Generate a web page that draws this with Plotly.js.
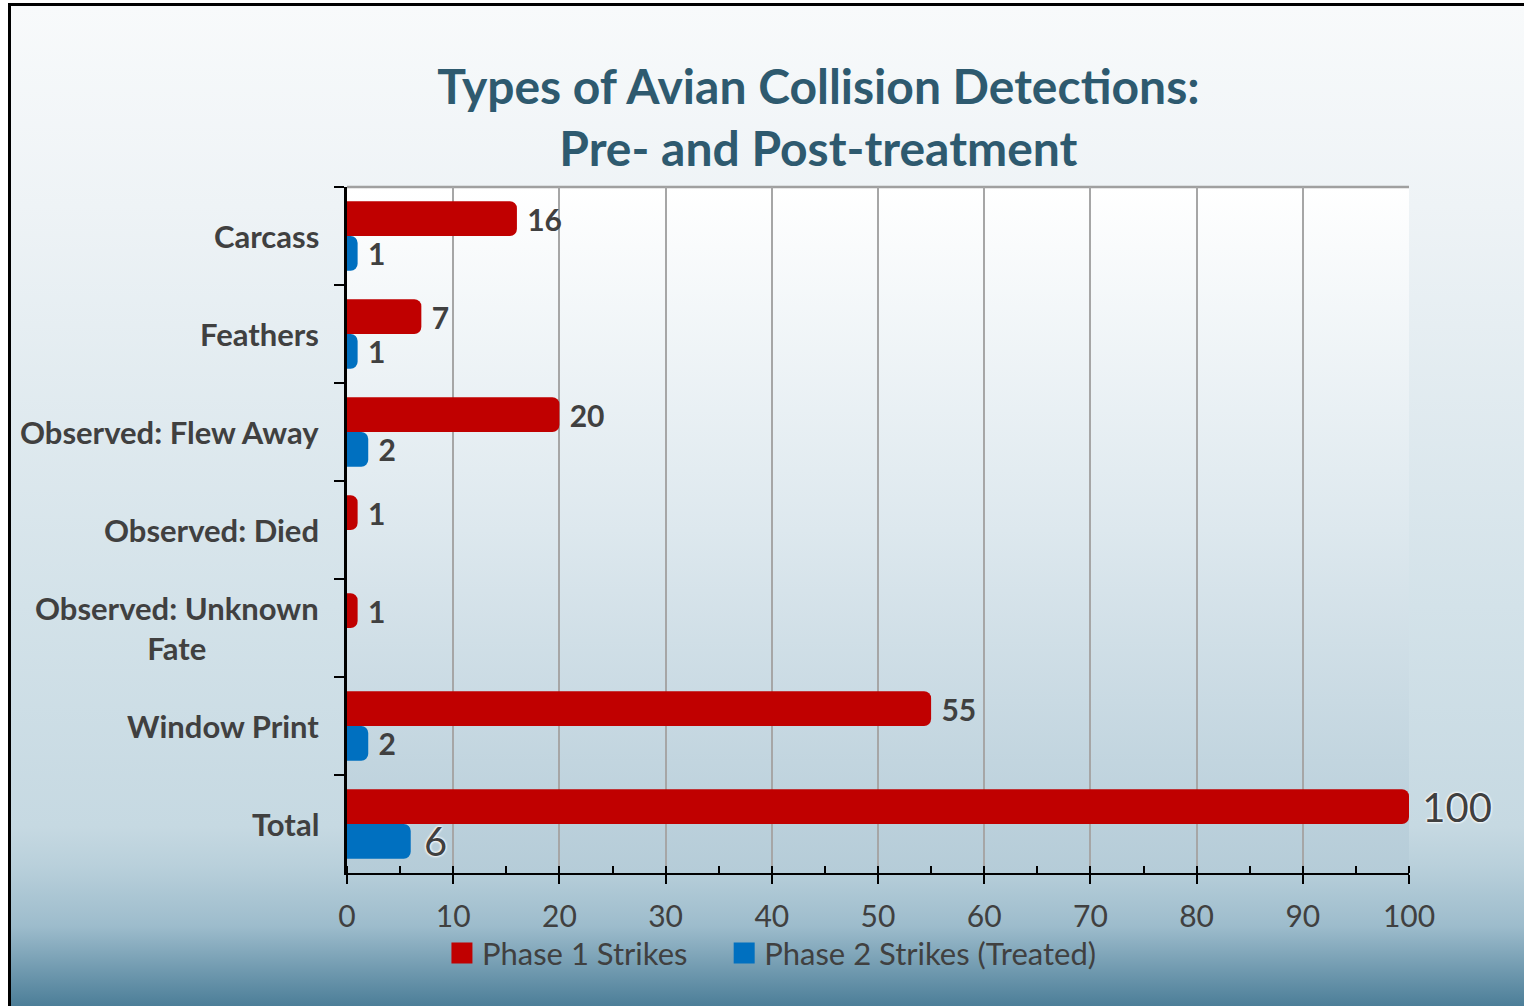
<!DOCTYPE html>
<html>
<head>
<meta charset="utf-8">
<script src="https://cdn.plot.ly/plotly-3.0.1.min.js"></script>
<style>
  html, body { margin: 0; padding: 0; background: #ffffff; }
  #frame {
    position: absolute; left: 8px; top: 3px; width: 1516px; height: 1003px;
    box-sizing: border-box; border-left: 3px solid #000; border-top: 3px solid #000;
    background: linear-gradient(to bottom, #f8fafb 0%, #eef3f6 20%, #d3e2e9 60%, #c6d9e2 82%, #b9d0db 86%, #9dbccc 92%, #4c7e98 100%);
  }
  #chart { position: absolute; left: 0; top: 0; width: 1524px; height: 1006px; }
</style>
</head>
<body>
<div id="frame"></div>
<div id="chart"></div>
<script>
// ---- data ----
const categories = ["Carcass", "Feathers", "Observed: Flew Away", "Observed: Died", "Observed: Unknown<br>Fate", "Window Print", "Total"];
const phase1Name = "Phase 1 Strikes";
const phase2Name = "Phase 2 Strikes (Treated)";
const phase1Values = [16, 7, 20, 1, 1, 55, 100];
const phase2Values = [1, 1, 2, null, null, 2, 6];
const xTickValues = [0, 10, 20, 30, 40, 50, 60, 70, 80, 90, 100];

// ---- styles ----
const labelColor = "#404040";
const red = "#c00000";
const blue = "#0070c0";
const fontFam = "Lato, 'Open Sans', sans-serif";
const isTotal = categories.map(c => c === "Total");
const textSizes = isTotal.map(t => t ? 40 : 30);
const textWeights = isTotal.map(t => t ? "normal" : "bold");
const textShadows = isTotal.map(t => t ? "0px 0px 3px #ffffff, 0px 0px 3px #ffffff, 0px 0px 2px #ffffff" : "none");

const plotGrad = "data:image/svg+xml;charset=utf-8," + encodeURIComponent(
  "<svg xmlns='http://www.w3.org/2000/svg' width='100' height='100' viewBox='0 0 100 100' preserveAspectRatio='none'>" +
  "<defs><linearGradient id='g' x1='0' y1='0' x2='0' y2='1'>" +
  "<stop offset='0' stop-color='#ffffff'/><stop offset='0.5' stop-color='#dde8ee'/><stop offset='1' stop-color='#b5ccd8'/>" +
  "</linearGradient></defs><rect x='0' y='0' width='100' height='100' fill='url(#g)'/></svg>");

function barTrace(name, values, color) {
  return {
    type: "bar", orientation: "h", name: name, legendgroup: name, showlegend: false,
    y: categories, x: values,
    marker: { color: color, cornerradius: 7 },
    text: values.map(v => v == null ? "" : "\u00a0" + v),
    textposition: "outside", constraintext: "none", cliponaxis: false,
    textfont: { family: fontFam, color: labelColor, size: textSizes, weight: textWeights, shadow: textShadows },
    hoverinfo: "x+name"
  };
}
function legendTrace(name, color, pad) {
  return {
    type: "scatter", mode: "markers", name: name + pad, legendgroup: name, showlegend: true,
    x: [null], y: [null],
    marker: { symbol: "square", size: 16, color: color, line: { color: color, width: 5 } },
    hoverinfo: "skip"
  };
}

const traces = [
  barTrace(phase1Name, phase1Values, red),
  barTrace(phase2Name, phase2Values, blue),
  legendTrace(phase1Name, red, "\u00a0\u00a0\u00a0\u00a0"),
  legendTrace(phase2Name, blue, "")
];

const annotations = categories.map(c => ({
  xref: "paper", yref: "y", x: 0, y: c, xanchor: "right", yanchor: "middle",
  xshift: -26, text: c, showarrow: false, align: "center",
  font: { family: fontFam, size: 31, color: labelColor, weight: "bold" }
}));

const layout = {
  width: 1524, height: 1006,
  paper_bgcolor: "rgba(0,0,0,0)", plot_bgcolor: "rgba(0,0,0,0)",
  margin: { l: 347, r: 115, t: 187, b: 133 },
  title: {
    text: "Types of Avian Collision Detections:<br>Pre- and Post-treatment",
    x: 0.537, xref: "container", xanchor: "center",
    y: 0.897, yref: "container", yanchor: "middle",
    font: { family: fontFam, size: 48, color: "#2e5a6f", weight: "bold" }
  },
  barmode: "group", bargap: 0.29, bargroupgap: 0,
  xaxis: {
    range: [0, 100], tickvals: xTickValues, ticktext: xTickValues.map(String),
    showgrid: true, gridcolor: "#a6a6a6", gridwidth: 2, zeroline: false,
    showline: true, linecolor: "#000000", linewidth: 2,
    ticks: "outside", ticklen: 9, tickwidth: 2, tickcolor: "#000000",
    minor: { dtick: 5, ticks: "inside", ticklen: 7, tickwidth: 2, tickcolor: "#000000", showgrid: false },
    ticklabelstandoff: 7,
    tickfont: { family: fontFam, size: 30, color: labelColor },
    fixedrange: true
  },
  yaxis: {
    type: "category", autorange: "reversed",
    showgrid: false, zeroline: false, showline: true, linecolor: "#000000", linewidth: 3,
    ticks: "outside", tickson: "boundaries", ticklen: 10, tickwidth: 2, tickcolor: "#000000",
    showticklabels: false, fixedrange: true
  },
  legend: {
    orientation: "h", x: 0.0894, xanchor: "left", y: -0.117, yanchor: "middle",
    font: { family: fontFam, size: 31, color: labelColor },
    bgcolor: "rgba(0,0,0,0)", itemclick: false, itemdoubleclick: false,
    itemwidth: 30
  },
  shapes: [
    { type: "line", xref: "paper", yref: "paper", x0: 0, x1: 1, y0: 1, y1: 1, line: { color: "#a0a0a0", width: 2.5 }, layer: "below" }
  ],
  images: [
    { source: plotGrad, xref: "paper", yref: "paper", x: 0, y: 1, sizex: 1, sizey: 1, sizing: "stretch", xanchor: "left", yanchor: "top", layer: "below" }
  ],
  annotations: annotations,
  showlegend: true
};

Plotly.newPlot("chart", traces, layout, { displayModeBar: false });
</script>
</body>
</html>
